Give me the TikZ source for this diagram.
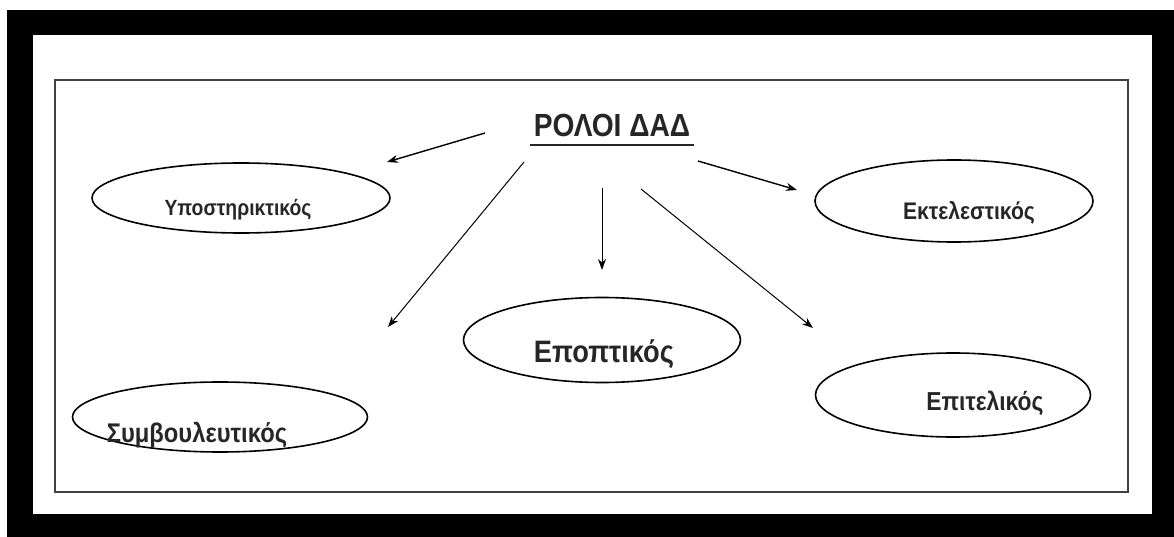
\documentclass[tikz,border=0pt]{standalone}
\usepackage{fontspec}
\setmainfont{Liberation Sans}[FakeStretch=0.88,BoldFont={Liberation Sans Bold},BoldFeatures={FakeStretch=0.88}]
\usepackage{tikz}
\usetikzlibrary{positioning}
\usetikzlibrary{shapes.geometric}
\usetikzlibrary{arrows.meta}

\begin{document}
\begin{tikzpicture}[x=1pt,y=-1pt,>={Stealth[length=11pt,width=8pt]},
	role/.style={ellipse,draw,line width=1.6pt,inner sep=0pt},
	role name/.style={anchor=base,text=black!85,font=\bfseries\fontsize{#1}{#1}\selectfont}]

	\useasboundingbox (0,0) rectangle (1174,537);
	% black frame and inner box
	\fill[black] (7,10) rectangle (1174,537);
	\fill[white] (33,35) rectangle (1152,514);
	\draw[black!75,line width=1.4pt] (55,80) rectangle (1128,492);

	\node[anchor=base,text=black!85,font=\bfseries\fontsize{32}{36}\selectfont] (title) at (612,137) {ΡΟΛΟΙ ΔΑΔ};
	\draw[line width=2.5pt,black!85] ([yshift=-8pt]title.base west) -- ([yshift=-8pt]title.base east);

	\node[role,minimum width=298,minimum height=70] (support) at (241,198) {};
	\node[role,minimum width=278,minimum height=82] (exec) at (954,201) {};
	\node[role,minimum width=277,minimum height=85] (supervise) at (602,340) {};
	\node[role,minimum width=275,minimum height=84] (staff) at (953,395) {};
	\node[role,minimum width=295,minimum height=70] (advise) at (220,417) {};

	\node[role name=22] (supportname) at (238,216) {Υποστηρικτικός};
	\node[role name=24] (execname) at (969,220) {Εκτελεστικός};
	\node[role name=31] (supervisename) at (604,362) {Εποπτικός};
	\node[role name=26] (staffname) at (985,410) {Επιτελικός};
	\node[role name=27] (advisename) at (197,442) {Συμβουλευτικός};

	\coordinate (supportfrom) at (485,133);
	\coordinate (supportto) at (387,162);
	\coordinate (advisefrom) at (524,162);
	\coordinate (adviseto) at (388,327);
	\coordinate (supervisefrom) at (602,188);
	\coordinate (superviseto) at (602,270);
	\coordinate (stafffrom) at (641,189);
	\coordinate (staffto) at (813,328);
	\coordinate (execfrom) at (698,161);
	\coordinate (execto) at (797,190);

	\path[->,line width=1pt]
	(supportfrom)   edge[line width=1.4pt] (supportto)
	(advisefrom)    edge (adviseto)
	(supervisefrom) edge (superviseto)
	(stafffrom)     edge (staffto)
	(execfrom)      edge[line width=1.4pt] (execto);
\end{tikzpicture}
\end{document}
